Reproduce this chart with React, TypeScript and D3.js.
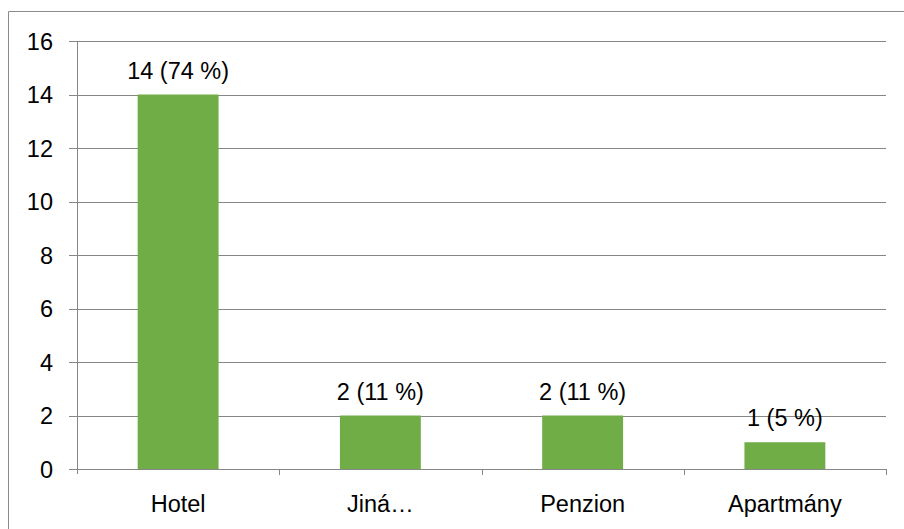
import React from "react"
import * as d3 from "d3"

const categories = ["Hotel", "Jiná…", "Penzion", "Apartmány"]
const values = [14, 2, 2, 1]
const labels = ["14 (74 %)", "2 (11 %)", "2 (11 %)", "1 (5 %)"]
const yTicks = [0, 2, 4, 6, 8, 10, 12, 14, 16]

const width = 904
const height = 529
const left = 77
const right = 886
const top = 41
const bottom = 469
const font = "'Liberation Sans', Arial, sans-serif"
const fs = 23.5

export default function App() {
  const x = d3.scaleBand<string>().domain(categories).range([left, right]).paddingInner(0.6).paddingOuter(0.3)
  const band = d3.scaleBand<string>().domain(categories).range([left, right])
  const y = d3.scaleLinear().domain([0, 16]).range([bottom, top])

  return (
    <svg width={width} height={height} style={{ position: "absolute", left: 0, top: 0 }}>
      <rect x={0} y={0} width={width} height={height} fill="#fff" />
      <path d={`M8.5,${height} V11.5 H${width}`} fill="none" stroke="#8c8c8c" strokeWidth={1} />
      {yTicks.map((t) => (
        <g key={t}>
          <line x1={69} x2={right} y1={Math.round(y(t)) + 0.5} y2={Math.round(y(t)) + 0.5} stroke="#868686" />
          <text x={53} y={y(t) + 8.5} textAnchor="end" fontFamily={font} fontSize={fs} fill="#000">
            {t}
          </text>
        </g>
      ))}
      <line x1={left + 0.5} x2={left + 0.5} y1={top} y2={bottom + 5} stroke="#868686" />
      {categories.map((c) => (
        <line
          key={"tk" + c}
          x1={Math.round(band(c)! + band.bandwidth()) + 0.5}
          x2={Math.round(band(c)! + band.bandwidth()) + 0.5}
          y1={bottom}
          y2={bottom + 6}
          stroke="#868686"
        />
      ))}
      {categories.map((c, i) => (
        <rect key={c} x={x(c)} y={y(values[i])} width={x.bandwidth()} height={bottom - y(values[i])} fill="#70ad47" />
      ))}
      {categories.map((c, i) => (
        <text
          key={"l" + c}
          x={x(c)! + x.bandwidth() / 2}
          y={y(values[i]) - 16}
          textAnchor="middle"
          fontFamily={font}
          fontSize={fs}
          fill="#000"
        >
          {labels[i]}
        </text>
      ))}
      {categories.map((c) => (
        <text
          key={"c" + c}
          x={band(c)! + band.bandwidth() / 2}
          y={512}
          textAnchor="middle"
          fontFamily={font}
          fontSize={fs}
          fill="#000"
        >
          {c}
        </text>
      ))}
    </svg>
  )
}
